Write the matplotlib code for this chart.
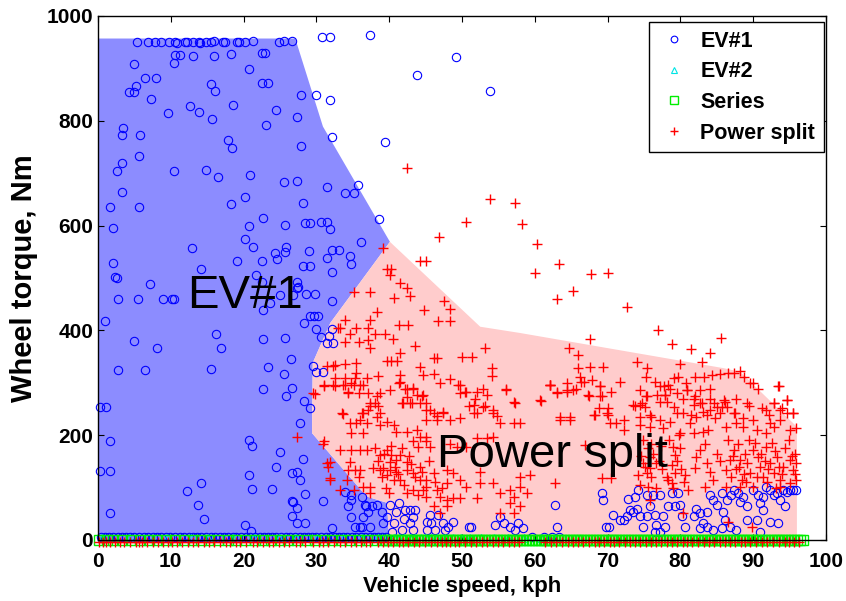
import matplotlib
matplotlib.use("Agg")
import matplotlib.pyplot as plt

plt.rcParams['font.family'] = ['Liberation Sans', 'DejaVu Sans']

# ---------------- data ----------------
x_ticks = [0, 10, 20, 30, 40, 50, 60, 70, 80, 90, 100]
y_ticks = [0, 200, 400, 600, 800, 1000]

ev1_region_speed = [0, 0, 27.1, 30.9, 40.1, 31.9, 29.5, 29.4, 36.9, 39.7, 40.0]
ev1_region_torque = [0, 957, 957, 789, 569, 414, 338, 204, 83, 71, 0]

ps_region_speed = [40.1, 52.5, 58.0, 85.9, 88.2, 96.0, 96.0, 40.0, 39.7, 36.9, 29.4, 29.5, 31.9]
ps_region_torque = [569, 407, 395, 328, 321, 216, 0, 0, 71, 83, 204, 338, 414]

ev1_samples = [
    (5.4, 951), (6.9, 951), (7.8, 951), (8.6, 951), (9.7, 951), (10.6, 951), (10.8, 948), (12.0, 951),
    (12.2, 951), (13.1, 951), (13.9, 951), (14.0, 948), (14.9, 951), (15.5, 951), (15.9, 953), (17.2, 951),
    (17.4, 951), (19.1, 951), (19.4, 951), (20.2, 951), (21.3, 953), (24.8, 951), (25.5, 953), (26.6, 953),
    (30.8, 960), (31.9, 960), (37.4, 964),
    (10.6, 925), (11.2, 925), (10.4, 910), (13.1, 923), (15.9, 923), (18.3, 927), (22.5, 929), (22.9, 929),
    (4.9, 908), (20.8, 899), (6.5, 881), (8.0, 881), (5.2, 867), (4.3, 855), (4.9, 855), (15.5, 871),
    (16.1, 857), (22.5, 873), (23.3, 873), (7.3, 841), (27.9, 849), (29.9, 849), (31.9, 840),
    (43.8, 887), (49.2, 922), (53.8, 857), (39.4, 760),
    (12.6, 828), (13.9, 816), (9.6, 814), (15.7, 803), (18.5, 830), (24.5, 821), (27.3, 808), (23.1, 792),
    (32.1, 770), (3.4, 786), (3.3, 773), (5.8, 773), (17.8, 763), (18.4, 749), (27.9, 752),
    (5.7, 733), (3.3, 719), (2.6, 704), (10.5, 705), (14.8, 706), (16.5, 693), (20.9, 696), (25.5, 684),
    (27.3, 685), (31.5, 674), (3.3, 664), (1.6, 636), (5.7, 636), (18.3, 641), (20.2, 655), (28.2, 644),
    (22.6, 614), (20.7, 599), (25.7, 602), (28.4, 604), (29.1, 604), (30.7, 606), (31.5, 606), (31.9, 593),
    (2.0, 595), (20.2, 574), (21.3, 559), (12.9, 557), (24.3, 547), (25.8, 560), (25.7, 549), (29.0, 552),
    (32.2, 553), (33.1, 553), (31.5, 539), (19.1, 533), (22.5, 533), (24.6, 536), (2.0, 528), (28.2, 522),
    (29.1, 522), (32.2, 512), (2.3, 502), (14.2, 517), (21.7, 506),
    (33.9, 663), (35.1, 663), (35.7, 677), (38.6, 612), (36.1, 569), (34.6, 542), (34.8, 526),
    (27.3, 480), (28.6, 469), (29.8, 469), (32.2, 456), (29.9, 403), (30.6, 388), (31.4, 375), (32.3, 375),
    (2.6, 500), (7.2, 488), (2.7, 460), (5.5, 460), (8.9, 460), (10.1, 460), (10.5, 460), (22.5, 493),
    (23.6, 452), (22.6, 438), (25.0, 468), (27.3, 493), (27.5, 483), (26.8, 468), (28.3, 415), (29.1, 427),
    (29.7, 427), (30.2, 427), (0.9, 418), (4.9, 380), (8.1, 366), (16.2, 393), (16.9, 367), (22.6, 384),
    (25.7, 385), (2.7, 324), (6.5, 324), (15.5, 326), (23.4, 331), (25.5, 316), (26.5, 345), (26.6, 291),
    (25.8, 275), (22.6, 288), (28.3, 265), (29.1, 251), (29.6, 332), (29.9, 320), (30.9, 320), (31.8, 389),
    (32.2, 402), (0.3, 254), (1.1, 254), (1.6, 188), (0.3, 132), (1.6, 132), (1.6, 51), (27.8, 223),
    (20.8, 191), (21.1, 179), (25.0, 167), (24.5, 140), (28.2, 155), (20.7, 124), (21.1, 97), (23.9, 97),
    (26.6, 127), (27.4, 129), (27.7, 115), (28.5, 87), (30.9, 75), (12.2, 94), (14.2, 108), (13.8, 67),
    (14.5, 41), (26.6, 75), (26.8, 73), (27.4, 61), (26.6, 46), (27.3, 32), (28.5, 32), (20.2, 29),
    (21.0, 18), (32.1, 22),
    (33.9, 92), (34.8, 86), (34.3, 64), (34.8, 44), (36.0, 25), (36.7, 67), (37.1, 54), (36.2, 83),
    (36.8, 65), (37.6, 65), (38.3, 67), (36.4, 44), (35.3, 25), (36.2, 25), (37.4, 25), (34.8, 76),
    (39.0, 54), (40.1, 67), (41.3, 70), (39.7, 44), (41.0, 54), (42.2, 57), (42.9, 57), (43.5, 57),
    (39.2, 32), (40.6, 32), (42.0, 41), (42.9, 32), (43.3, 44), (40.4, 16), (41.8, 19), (43.3, 19),
    (45.2, 35), (45.8, 32), (46.7, 48), (45.6, 48), (47.4, 32), (48.8, 35), (48.1, 25), (45.2, 19),
    (46.3, 19), (47.7, 19), (50.9, 25), (51.3, 25),
    (54.5, 29), (55.7, 32), (56.6, 25), (57.7, 32), (58.4, 22), (57.3, 19), (55.2, 44), (62.8, 67), (63.0, 25),
    (69.2, 89), (69.4, 76),
    (70.7, 48), (69.8, 25), (70.2, 25), (71.7, 38), (72.2, 38), (72.6, 45), (73.1, 57), (72.8, 79),
    (73.5, 54), (74.0, 60), (74.2, 95), (73.8, 83), (74.5, 45), (75.4, 45), (74.9, 25), (75.8, 64),
    (76.5, 48), (76.7, 29), (77.6, 45), (78.3, 64), (79.2, 64), (79.7, 89), (78.8, 89), (79.9, 67),
    (76.3, 86), (77.2, 86), (75.4, 86), (77.9, 25), (76.5, 16), (77.2, 16), (80.2, 45), (80.6, 25),
    (81.8, 45), (82.2, 60), (82.7, 51), (83.1, 32), (83.6, 54), (84.1, 86), (84.5, 76), (85.0, 67),
    (85.7, 89), (85.9, 54), (86.4, 76), (87.0, 86), (87.3, 95), (87.9, 89), (88.2, 73), (89.1, 64),
    (88.6, 83), (90.0, 95), (90.7, 86), (90.9, 70), (91.4, 83), (91.8, 102), (92.3, 95), (92.8, 86),
    (93.2, 89), (93.7, 76), (94.1, 95), (94.6, 92), (95.0, 95), (95.5, 95), (95.9, 95), (91.4, 57),
    (92.3, 35), (93.4, 32), (94.4, 64), (86.8, 25), (87.7, 19), (89.1, 38), (90.5, 38), (90.9, 16),
    (83.6, 25), (84.5, 19), (85.7, 22), (86.1, 38), (82.7, 22),
]

ps_samples = [
    # above the shaded region
    (42.5, 709), (53.8, 651), (57.3, 643), (50.6, 607), (58.3, 603), (46.9, 578), (60.3, 565),
    (60.0, 509), (44.2, 533), (45.1, 533), (39.1, 557), (63.3, 527), (67.7, 508), (70.0, 509),
    (65.2, 476), (63.0, 460), (72.6, 445), (76.9, 400), (78.8, 374), (81.4, 365), (84.0, 356),
    (85.6, 385), (67.6, 384), (64.7, 366), (66.0, 353), (74.0, 340), (75.4, 328), (80.0, 335),
    (83.0, 340),
    # power split region, left/upper part
    (39.7, 518), (40.3, 518), (40.1, 506), (41.5, 490), (42.4, 480), (42.9, 466), (40.7, 462),
    (35.2, 474), (37.3, 474), (38.3, 436), (37.4, 420), (33.9, 420), (33.2, 404), (35.5, 404),
    (37.1, 404), (38.0, 394), (39.4, 394), (40.5, 383), (41.3, 410), (42.6, 410), (44.8, 439),
    (47.5, 457), (48.4, 440), (48.4, 417), (46.7, 417), (43.5, 370), (34.6, 394), (33.9, 378),
    (35.8, 378), (37.1, 382), (37.3, 366), (41.5, 356), (39.7, 342), (40.3, 342), (41.1, 342),
    (46.1, 347), (46.6, 347), (50.0, 349), (51.4, 350), (53.2, 366), (31.4, 333), (32.3, 333),
    (33.9, 336), (35.5, 337), (35.5, 318), (32.6, 309), (33.9, 309), (33.9, 296), (35.3, 309),
    (36.9, 309), (38.5, 313), (41.5, 315), (44.2, 331), (44.7, 315), (46.1, 317), (48.4, 307),
    (49.5, 296), (49.7, 280), (50.4, 283), (51.8, 270), (52.9, 288), (54.1, 328), (54.1, 313),
    (56.1, 288), (57.3, 262), (31.0, 293), (32.6, 293), (29.8, 278), (34.4, 280), (35.1, 296),
    (36.4, 296), (38.3, 274), (40.1, 286), (41.3, 299), (42.2, 288), (42.4, 272), (43.3, 289),
    (44.5, 274), (41.7, 261), (43.1, 261), (45.1, 261), (45.6, 248), (46.5, 237), (47.4, 242),
    (50.9, 255), (52.0, 242), (53.2, 256), (54.8, 237), (54.3, 248), (33.7, 241), (36.2, 242),
    (37.4, 255), (38.5, 255), (38.7, 242), (33.0, 404), (32.6, 334),
    (27.3, 197), (31.4, 146), (31.9, 118), (30.9, 184),
    # power split region, right/upper part
    (66.0, 328), (67.6, 331), (69.4, 331), (66.2, 312), (66.7, 302), (67.8, 305), (64.4, 299),
    (62.1, 295), (63.1, 281), (64.4, 283), (65.6, 288), (67.4, 275), (69.0, 293), (69.0, 275),
    (60.8, 265), (75.3, 312), (76.5, 302), (79.1, 309), (79.7, 311), (77.7, 293), (78.6, 289),
    (77.9, 277), (76.8, 277), (75.3, 274), (77.2, 264), (78.1, 264), (80.7, 299), (80.9, 286),
    (80.4, 270), (82.0, 312), (83.2, 312), (84.3, 315), (85.5, 317), (86.6, 318), (87.3, 319),
    (88.2, 323), (88.7, 312), (89.6, 299), (90.6, 289), (93.6, 293), (82.7, 286), (84.1, 288),
    (82.0, 274), (81.8, 258), (83.0, 261), (84.6, 261), (86.0, 267), (86.4, 254), (89.4, 256),
    (92.8, 261), (94.6, 267), (93.9, 251), (94.6, 242), (95.5, 242), (91.7, 248), (92.1, 239),
    (79.1, 254), (79.5, 242), (75.2, 254), (73.8, 256), (74.7, 261), (68.8, 251), (70.1, 251),
    (68.1, 239), (70.1, 239), (63.5, 235), (64.8, 235), (74.5, 235), (75.9, 235), (81.4, 239),
    (83.6, 239), (85.5, 242), (87.3, 242),
    # power split region, lower-left cluster
    (31.0, 296), (32.3, 296), (33.7, 296), (34.8, 299), (36.0, 296), (29.6, 280), (34.4, 282),
    (35.8, 280), (37.1, 280), (38.7, 280), (41.5, 302), (42.4, 289), (43.3, 291), (43.8, 277),
    (44.7, 277), (47.0, 299), (49.7, 296), (50.6, 283), (52.0, 283), (53.4, 277), (56.1, 286),
    (57.1, 264), (60.7, 267), (62.1, 296), (41.9, 261), (42.9, 261), (44.2, 261), (45.1, 248),
    (46.1, 242), (47.4, 244), (48.4, 229), (49.7, 232), (51.6, 258), (51.6, 242), (52.9, 254),
    (54.3, 242), (55.2, 223), (57.1, 223), (58.0, 223), (46.5, 229), (45.1, 229), (37.4, 261),
    (38.0, 261), (37.1, 248), (36.4, 242), (36.0, 229), (34.6, 223), (33.5, 242), (35.5, 223),
    (36.9, 223), (38.3, 235), (38.7, 219), (39.7, 226), (40.6, 219), (41.0, 207), (42.4, 207),
    (43.8, 210), (44.2, 197), (45.1, 197), (43.3, 188), (44.0, 178), (45.1, 188), (45.6, 178),
    (48.4, 184), (49.3, 178), (50.6, 178), (52.0, 194), (53.4, 194), (54.3, 197), (31.0, 188),
    (34.8, 204), (36.4, 204), (33.2, 172), (34.8, 172), (36.0, 172), (36.9, 172), (38.0, 175),
    (38.7, 162), (39.7, 172), (40.3, 162), (41.0, 153), (41.5, 162), (42.4, 149), (40.1, 149),
    (39.2, 137), (39.7, 124), (38.7, 134), (37.8, 137), (34.6, 149), (34.4, 134), (35.3, 134),
    (36.0, 134), (35.8, 121), (34.2, 115), (33.2, 95), (35.1, 95), (36.4, 102), (37.4, 102),
    (37.4, 89), (40.1, 134), (41.0, 130), (40.6, 115), (41.5, 115), (42.4, 134), (43.3, 127),
    (44.2, 140), (44.2, 115), (45.1, 115), (46.1, 127), (45.1, 102), (46.5, 95), (47.0, 83),
    (47.9, 76), (48.8, 80), (49.7, 80), (47.9, 64), (47.0, 51), (44.7, 95), (45.1, 83), (46.1, 64),
    (43.3, 95), (42.4, 89), (47.9, 134), (48.8, 127), (49.7, 115), (50.6, 102), (47.9, 108),
    (52.5, 130), (52.5, 108), (54.3, 108), (55.2, 89), (56.6, 95), (58.0, 102), (58.9, 89),
    (57.1, 83), (56.6, 70), (58.0, 64), (57.1, 51), (55.2, 51), (58.0, 121), (59.3, 124),
    (52.0, 80), (31.9, 149), (31.6, 140), (31.9, 115),
    (38.5, 150), (39.0, 120), (39.6, 100), (40.3, 180), (40.8, 140), (41.2, 125), (41.8, 175),
    (42.0, 105), (42.7, 160), (43.0, 145), (43.6, 120), (44.5, 130), (45.5, 150), (46.3, 110),
    (47.2, 100), (39.3, 165), (40.0, 90), (44.0, 85),
    # power split region, lower-right cluster
    (62.1, 296), (63.0, 283), (64.4, 286), (65.3, 286), (66.4, 302), (67.3, 277), (68.9, 293),
    (69.2, 274), (71.7, 302), (70.5, 283), (74.4, 286), (75.4, 274), (77.2, 293), (78.3, 296),
    (77.9, 277), (79.5, 280), (80.9, 286), (81.8, 270), (82.7, 261), (84.1, 270), (85.0, 254),
    (86.1, 264), (87.7, 270), (89.1, 261), (90.0, 299), (92.8, 261), (93.4, 293), (94.6, 267),
    (95.5, 242), (93.7, 248), (63.5, 229), (64.8, 229), (68.3, 239), (69.9, 242), (70.3, 223),
    (71.2, 223), (72.2, 229), (73.5, 258), (74.4, 258), (75.8, 239), (77.2, 229), (78.6, 226),
    (80.4, 242), (81.3, 223), (82.2, 235), (83.1, 245), (84.1, 248), (84.7, 232), (85.7, 254),
    (87.5, 242), (88.6, 232), (90.0, 229), (91.2, 251), (92.3, 223), (93.7, 229), (95.0, 210),
    (95.9, 213), (72.2, 210), (74.4, 219), (75.8, 216), (77.6, 213), (79.9, 204), (81.8, 204),
    (83.1, 207), (83.8, 210), (86.3, 216), (87.7, 223), (88.6, 216), (90.5, 210), (91.8, 204),
    (92.8, 216),
    (66.9, 181), (69.2, 118), (70.5, 118), (74.2, 124), (75.4, 127), (74.9, 146), (75.8, 159),
    (76.7, 146), (75.8, 137), (74.4, 105), (75.6, 102), (76.7, 99), (78.3, 115), (79.0, 99),
    (79.2, 127), (78.8, 143), (79.2, 162), (79.9, 175), (79.0, 178), (80.6, 124), (82.0, 137),
    (82.2, 159), (82.7, 172), (83.4, 184), (83.6, 146), (84.1, 130), (84.5, 115), (85.0, 165),
    (85.4, 150), (86.3, 134), (86.8, 153), (87.0, 121), (87.3, 172), (87.9, 184), (88.2, 153),
    (88.4, 115), (89.1, 146), (89.5, 127), (90.0, 172), (90.7, 159), (90.9, 140), (91.4, 121),
    (91.8, 178), (92.3, 146), (92.8, 127), (93.2, 159), (93.7, 115), (94.1, 140), (95.0, 153),
    (95.5, 134), (95.9, 146), (95.8, 165), (90.0, 102), (88.2, 102), (86.3, 102), (83.4, 102),
    (93.7, 102), (95.0, 108), (95.9, 115), (62.8, 108), (75.8, 76), (80.4, 51), (89.8, 25),
    (86.6, 35), (76.0, 184),
    (74.8, 190), (75.5, 175), (76.2, 165), (77.0, 150), (77.5, 135), (78.1, 120), (78.9, 108),
    (79.5, 150), (80.1, 135), (76.0, 120), (75.2, 140), (74.6, 160), (77.3, 180), (78.5, 190),
    (79.8, 200), (80.5, 110), (81.0, 95),
    (86.5, 190), (87.2, 160), (88.0, 140), (88.8, 125), (89.4, 190), (90.2, 185), (91.0, 165),
    (91.6, 150), (92.0, 135), (92.6, 185), (93.0, 170), (93.5, 140), (94.0, 125), (94.4, 175),
    (94.9, 190), (95.3, 160), (95.7, 125), (89.0, 110), (90.5, 120), (91.9, 110), (93.1, 100),
    (87.6, 135), (88.9, 165),
]

# samples lying on the zero-torque line
ev1_zero_speed = [0.4, 1.0, 1.5, 2.1, 2.7, 3.3, 3.9, 4.4, 5.0, 5.7, 6.3, 6.9, 7.6, 8.1, 8.7, 9.3,
                  9.9, 10.6, 11.2, 11.8, 12.5, 13.0, 13.6, 14.2, 14.8, 15.5, 16.1, 16.7, 17.3,
                  17.9, 18.5, 19.0, 19.6, 20.3, 20.9, 21.6, 22.2, 22.8, 23.4, 23.9, 24.5, 25.2,
                  25.8, 26.4, 27.0, 27.7, 28.3, 28.8, 29.4, 30.0, 30.6, 31.3, 31.9, 32.5, 33.1,
                  33.6, 34.2, 34.9, 35.5, 36.1, 36.7, 37.3, 37.9, 38.4, 39.0, 39.6, 59.6, 61.2,
                  62.4, 63.3]
ev2_zero_speed = [0.6, 4.2, 9.5, 12.8, 15.1, 18.6, 21.4, 24.9, 27.2, 30.1, 33.6, 36.2, 38.5,
                  40.7, 41.4, 42.1, 42.9, 43.6, 44.3, 45.0, 45.8, 46.5, 47.6, 48.7, 49.9, 51.1,
                  52.6, 54.4, 56.3, 58.5, 60.8, 62.6]
series_zero_speed = [0.2, 1.2, 2.1, 3.3, 4.6, 5.8, 7.0, 8.1, 9.3, 10.6, 11.8, 13.0, 14.2, 15.3,
                     16.5, 17.8, 19.0, 20.2, 21.5, 22.6, 23.8, 25.0, 26.1, 27.4, 28.7, 29.8,
                     31.0, 32.2, 33.4, 34.6, 35.8, 36.9, 38.1, 39.0, 39.6, 40.0, 40.4, 40.8,
                     41.2, 41.6, 42.0, 42.4, 42.8, 43.2, 43.6, 44.0, 44.4, 44.8, 45.2, 45.6, 46.0,
                     46.4, 46.8, 47.2, 47.6, 48.0, 48.4, 48.8, 49.2, 49.6, 50.0, 50.4, 50.8, 51.2,
                     51.6, 52.0, 52.4, 52.8, 53.2, 53.6, 54.0, 54.4, 54.8, 55.2, 55.6, 56.0, 56.4,
                     56.8, 57.2, 57.6, 58.0, 58.4, 58.8, 59.2, 59.6, 60.0, 60.4, 60.8, 61.2, 61.6,
                     62.0, 62.4, 62.8, 63.2, 63.6, 64.0, 64.4, 64.8, 65.2, 65.6, 66.0, 66.4, 66.8,
                     67.2, 67.6, 68.0, 68.4, 68.8, 69.2, 69.6, 70.0, 70.4, 70.8, 71.2, 71.6, 72.0,
                     72.4, 72.8, 73.2, 73.6, 74.0, 74.4, 74.8, 75.2, 75.6, 76.0, 76.4, 76.8, 77.2,
                     77.6, 78.0, 78.4, 78.8, 79.2, 79.6, 80.0, 80.4, 80.8, 81.2, 81.6, 82.0, 82.4,
                     82.8, 83.2, 83.6, 84.0, 84.4, 84.8, 85.2, 85.6, 86.0, 86.4, 86.8, 87.2, 87.6,
                     88.0, 88.4, 88.8, 89.2, 89.6, 90.0, 90.4, 90.8, 91.2, 91.6, 92.0, 92.4, 92.8,
                     93.2, 93.6, 94.0, 94.4, 94.8, 95.2, 95.6, 96.0, 96.4, 96.9]
ps_zero_speed = [0.2, 0.7, 1.1, 1.7, 2.3, 3.0, 3.6, 4.4, 5.2, 5.6, 6.1, 6.8, 7.5, 8.3, 9.0, 9.6,
                 10.2, 10.9, 11.6, 12.4, 13.1, 13.8, 14.5, 15.3, 15.9, 16.8, 17.6, 18.2, 18.9,
                 19.5, 20.4, 21.3, 21.9, 22.7, 23.5, 24.1, 24.8, 25.6, 26.3, 27.2, 27.8, 28.4,
                 29.5, 30.3, 30.9, 31.6, 32.4, 33.2, 33.9, 34.7, 35.5, 36.1, 36.8, 37.3, 38.4,
                 39.2, 39.9, 40.5, 41.3, 41.9, 42.6, 43.4, 44.1, 44.9, 45.7, 46.5, 47.2, 47.8,
                 48.3, 49.0, 49.6, 50.4, 51.2, 51.9, 52.7, 53.5, 54.3, 55.0, 55.6, 56.4, 57.1,
                 57.8, 61.4, 62.2, 62.9, 63.7, 64.5, 65.3, 65.9, 66.6, 67.4, 68.2, 68.8, 69.5,
                 70.3, 70.9, 71.6, 72.4, 73.1, 73.8, 74.5, 75.3, 75.9, 76.6, 77.4, 78.2, 78.8,
                 79.5, 80.3, 80.9, 81.6, 82.4, 83.2, 83.9, 84.6, 85.4, 86.1, 86.8, 87.5, 88.3,
                 88.9, 89.6, 90.4, 91.2, 91.9, 92.7, 93.5, 94.3, 94.9, 95.6, 96.3]
ev1_zero_torque = [5] * len(ev1_zero_speed)
ev2_zero_torque = [4] * len(ev2_zero_speed)
series_zero_torque = [0] * len(series_zero_speed)
ps_zero_torque = [-4] * len(ps_zero_speed)

ev1_speed = [p[0] for p in ev1_samples] + ev1_zero_speed
ev1_torque = [p[1] for p in ev1_samples] + ev1_zero_torque
ps_speed = [p[0] for p in ps_samples] + ps_zero_speed
ps_torque = [p[1] for p in ps_samples] + ps_zero_torque

# ---------------- figure ----------------
fig = plt.figure(figsize=(8.46, 6.01), dpi=100)
ax = fig.add_axes([0.1158, 0.1015, 0.8606, 0.8719])

ax.fill(ev1_region_speed, ev1_region_torque, color='#8c8cff', lw=0, zorder=1)
ax.fill(ps_region_speed, ps_region_torque, color='#ffcccc', lw=0, zorder=1)

ax.plot(ev1_speed, ev1_torque, 'o', mfc='none', mec='#0000ff', ms=6, mew=0.8,
        label='EV#1', clip_on=False, zorder=3)
ax.plot(ev2_zero_speed, ev2_zero_torque, '^', mfc='none', mec='#00e5e5', ms=6, mew=0.8,
        label='EV#2', clip_on=False, zorder=3)
ax.plot(series_zero_speed, series_zero_torque, 's', mfc='none', mec='#00ee00', ms=6.5, mew=1.0,
        label='Series', clip_on=False, zorder=3)
ax.plot(ps_speed, ps_torque, '+', color='#ff0000', ms=7, mew=1.0,
        label='Power split', clip_on=False, zorder=4)

ax.text(12.2, 443, 'EV#1', fontsize=34, color='black', ha='left', va='baseline', zorder=6)
ax.text(46.5, 139, 'Power split', fontsize=34, color='black', ha='left', va='baseline', zorder=6)

ax.set_xlim(0, 100)
ax.set_ylim(0, 1000)
ax.set_xticks(x_ticks)
ax.set_yticks(y_ticks)
ax.tick_params(direction='in', top=True, right=True, length=4, width=0.8)
ax.tick_params(axis='x', pad=9)
ax.tick_params(axis='y', pad=3.5)
for lab in ax.get_xticklabels() + ax.get_yticklabels():
    lab.set_fontsize(15)
    lab.set_fontweight('bold')
for sp in ax.spines.values():
    sp.set_linewidth(1.0)
    sp.set_color('black')
    sp.set_zorder(7)

ax.set_xlabel('Vehicle speed, kph', fontsize=16, fontweight='bold', labelpad=3)
ax.set_ylabel('Wheel torque, Nm', fontsize=21, fontweight='bold', labelpad=6)

leg = ax.legend(loc='upper right', bbox_to_anchor=(0.997, 0.9885), borderaxespad=0,
                fancybox=False, framealpha=1, edgecolor='black', prop={'weight': 'bold', 'size': 15.5},
                handlelength=1.5, handletextpad=0.5, borderpad=0.4, labelspacing=0.45, markerscale=0.8)
leg.get_frame().set_linewidth(1.0)
leg.set_zorder(8)

fig.savefig('out.png', dpi=100)
